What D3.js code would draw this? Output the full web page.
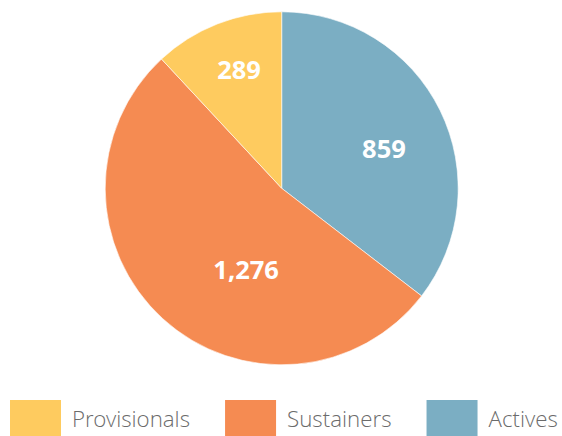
<!DOCTYPE html>
<html>
<head>
<meta charset="utf-8">
<script src="https://cdn.jsdelivr.net/npm/d3@7/dist/d3.min.js"></script>
<style>
  html, body { margin: 0; padding: 0; background: #ffffff; }
  svg { display: block; }
</style>
</head>
<body>
<svg id="chart" width="562" height="436"></svg>
<script>
// ---- data ----
const categories = ["Provisionals", "Sustainers", "Actives"];
const values = [289, 1276, 859];
const colors = ["#FECB5F", "#F58B52", "#7BAEC3"];
// drawing order clockwise from 12 o'clock
const pieOrder = ["Actives", "Sustainers", "Provisionals"];
// label placement tweaks (angle shift in degrees, radius fraction)
const labelAngleShift = { Actives: 4.9, Sustainers: -18.7, Provisionals: 1.7 };
const labelRadiusFrac = { Actives: 0.622, Sustainers: 0.503, Provisionals: 0.715 };

const W = 562, H = 436;
const cx = 281.7, cy = 188.3, R = 176.5;

const svg = d3.select("#chart");
const color = d3.scaleOrdinal().domain(categories).range(colors);
const fmt = d3.format(",");

const rows = pieOrder.map(c => ({ cat: c, val: values[categories.indexOf(c)] }));
const pie = d3.pie().sort(null).value(d => d.val).startAngle(0).endAngle(2 * Math.PI);
const arcs = pie(rows);
const arc = d3.arc().innerRadius(0).outerRadius(R);

const g = svg.append("g").attr("transform", `translate(${cx},${cy})`);
g.selectAll("path.slice")
  .data(arcs)
  .join("path")
  .attr("class", "slice")
  .attr("d", arc)
  .attr("fill", d => color(d.data.cat))
  .attr("stroke", "#ffffff")
  .attr("stroke-width", 0.6)
  .attr("stroke-linejoin", "round");

g.selectAll("text.val")
  .data(arcs)
  .join("text")
  .attr("class", "val")
  .attr("transform", d => {
    const a = (d.startAngle + d.endAngle) / 2 + labelAngleShift[d.data.cat] * Math.PI / 180;
    const r = R * labelRadiusFrac[d.data.cat];
    return `translate(${r * Math.sin(a)},${-r * Math.cos(a)})`;
  })
  .attr("text-anchor", "middle")
  .attr("dy", "0.357em")
  .attr("fill", "#ffffff")
  .style("font-family", "'Open Sans', sans-serif")
  .style("font-weight", 700)
  .style("font-size", "25.5px")
  .text(d => fmt(d.data.val));

// ---- legend ----
const legend = svg.append("g");
let x = 10;
const sq = 51, sqTop = 400, textBase = 427, textGap = 11, itemGap = 35;
categories.forEach((c, i) => {
  legend.append("rect")
    .attr("x", x).attr("y", sqTop)
    .attr("width", sq).attr("height", sq)
    .attr("fill", color(c));
  const t = legend.append("text")
    .attr("x", x + sq + textGap)
    .attr("y", textBase)
    .attr("fill", "#6b6b6b")
    .style("font-family", "'Open Sans Light', 'Open Sans', sans-serif")
    .style("font-weight", 300)
    .style("font-size", "22.3px")
    .text(c);
  x = x + sq + textGap + t.node().getComputedTextLength() + itemGap;
});
</script>
</body>
</html>
